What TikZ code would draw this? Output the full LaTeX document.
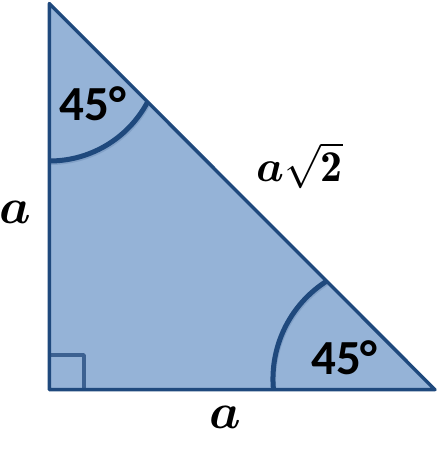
\RequirePackage{fix-cm}
\documentclass[tikz,border=0pt]{standalone}
\usepackage{fontspec}
\usepackage{bm}
\newfontfamily\calfont{Carlito}
\definecolor{fillblue}{HTML}{95B3D7}
\definecolor{edgeblue}{HTML}{1F497D}
\definecolor{sqblue}{HTML}{3C6191}
\definecolor{shadowblue}{HTML}{6F8FB8}
\tikzset{
  edge/.style={draw=edgeblue, line width=3.4pt, line join=round},
  anglearc/.style={draw=edgeblue, line width=5pt},
  arcshadow/.style={draw=shadowblue, line width=4pt, opacity=0.5},
  rightmark/.style={draw=sqblue, line width=3.4pt, line join=round},
  deglabel/.style={font={\calfont\bfseries\fontsize{49}{55}\selectfont}, inner sep=0pt, anchor=base},
  sidelabel/.style={font={\fontsize{50}{55}\selectfont}, inner sep=0pt, anchor=base},
  hyplabel/.style={font={\fontsize{44}{50}\selectfont}, inner sep=0pt, anchor=base}
}
\begin{document}
\begin{tikzpicture}[x=1pt,y=1pt]
\useasboundingbox (0,0) rectangle (439,449);
\coordinate (T) at (49.3,445.5);
\coordinate (B) at (49.3,59.3);
\coordinate (R) at (435,59.3);
\coordinate (C1) at (49.5,399);
\coordinate (C2) at (389,70);
\coordinate (A1) at (49.5,288);
\coordinate (A2) at (273.5,58.9);
\coordinate (S1) at (84,59.3);
\coordinate (S2) at (84,94);
\coordinate (S3) at (49.3,94);
% triangle fill
\fill[fillblue] (T) -- (B) -- (R) -- cycle;
% angle arcs, clipped to triangle
\begin{scope}
  \clip (T) -- (B) -- (R) -- cycle;
  \draw[arcshadow] ([shift={(1,-2)}]A1) arc[start angle=-90, end angle=-26, radius=111];
  \draw[arcshadow] ([shift={(1,-2)}]A2) arc[start angle=185.5, end angle=120, radius=116];
  \draw[anglearc] (A1) arc[start angle=-90, end angle=-26, radius=111];
  \draw[anglearc] (A2) arc[start angle=185.5, end angle=120, radius=116];
\end{scope}
% right angle mark
\draw[rightmark] (S3) -- (S2) -- (S1);
% triangle outline
\draw[edge] (T) -- (B) -- (R) -- cycle;
% labels
\node[deglabel] (d1) at (93,328) {45°};
\node[deglabel] (d2) at (344.5,74) {45°};
\node[sidelabel] (l1) at (15,225.5) {$\bm{a}$};
\node[sidelabel] (l2) at (225.5,20.5) {$\bm{a}$};
\node[hyplabel] (l3) at (299.5,267) {$\bm{a}\sqrt{\mathbf{2}}$};
\end{tikzpicture}
\end{document}
